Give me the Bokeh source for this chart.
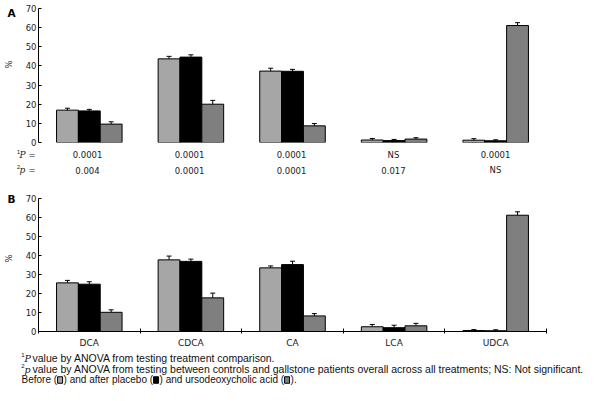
import numpy as np
from bokeh.plotting import figure
from bokeh.models import Range1d, FixedTicker, ColumnDataSource, Whisker, TeeHead
from bokeh.layouts import column, row
from bokeh.core.properties import value
from bokeh.embed import file_html
from bokeh.resources import INLINE

# ---------------- data ----------------
categories = ["DCA", "CDCA", "CA", "LCA", "UDCA"]
series_names = ["Before", "Placebo", "Ursodeoxycholic acid"]

a_before = [16.9, 43.7, 37.3, 1.3, 1.2]
a_placebo = [16.5, 44.6, 37.2, 1.0, 0.9]
a_udca = [9.6, 20.0, 8.7, 1.8, 61.1]
a_before_err = [1.0, 1.3, 1.5, 0.8, 0.8]
a_placebo_err = [0.8, 1.2, 1.0, 0.6, 0.5]
a_udca_err = [1.2, 2.0, 1.2, 0.7, 1.5]

b_before = [25.6, 37.7, 33.5, 2.5, 0.5]
b_placebo = [24.9, 36.9, 35.2, 2.0, 0.4]
b_udca = [10.1, 17.7, 8.2, 3.0, 61.2]
b_before_err = [1.3, 2.0, 1.0, 1.2, 0.5]
b_placebo_err = [1.3, 1.2, 1.8, 1.3, 0.5]
b_udca_err = [1.3, 2.5, 1.2, 1.3, 1.8]

p1_values = ["0.0001", "0.0001", "0.0001", "NS", "0.0001"]
p2_values = ["0.004", "0.0001", "0.0001", "0.017", "NS"]
y_ticks = [0, 10, 20, 30, 40, 50, 60, 70]

colors = ["#a6a6a6", "#000000", "#7f7f7f"]

# ---------------- layout constants (picture px) ----------------
W = 584
STRIP = 22          # left strip with panel letter and "%"
LEFT = 14           # axis border of the panel figures
RIGHT = 38
FRAME_X0 = STRIP + LEFT               # 36
FRAME_W = W - STRIP - LEFT - RIGHT    # 510
PX_PER_CAT = FRAME_W / 5.0
BAR_W = 0.215
NUM_FONT = value("DejaVu Sans")
NOTE_FONT = value("Liberation Sans")
TXT = "#222222"


def cat_x(px):
    """picture pixel -> category units"""
    return (px - FRAME_X0) / PX_PER_CAT


centers = np.arange(len(categories)) + 0.5


def blank(width, height, xr, yr):
    p = figure(width=width, height=height, x_range=xr, y_range=yr,
               output_backend="svg", toolbar_location=None,
               x_axis_location=None, y_axis_location=None,
               min_border_left=0, min_border_right=0, min_border_top=0, min_border_bottom=0)
    p.frame_align = False
    p.outline_line_color = None
    p.xgrid.visible = False
    p.ygrid.visible = False
    return p


def base_fig(height, top, bottom, x_axis):
    p = figure(width=W - STRIP, height=height, x_range=Range1d(0, 5), y_range=Range1d(0, 70),
               output_backend="svg", toolbar_location=None,
               x_axis_location=("below" if x_axis else None),
               min_border_left=LEFT, min_border_right=RIGHT,
               min_border_top=top, min_border_bottom=bottom)
    p.frame_align = False
    p.outline_line_color = None
    p.xgrid.visible = False
    p.ygrid.visible = False
    ya = p.yaxis[0]
    ya.ticker = FixedTicker(ticks=y_ticks)
    ya.minor_tick_line_color = None
    ya.major_tick_in = 3
    ya.major_tick_out = 0
    ya.major_label_standoff = 2
    ya.major_label_text_font = "DejaVu Sans"
    ya.major_label_text_font_size = "8.5px"
    ya.major_label_text_color = TXT
    ya.axis_line_color = "black"
    ya.major_tick_line_color = "black"
    return p


def draw_bars(p, vals, errs, full):
    for j, (v, e, c) in enumerate(zip(vals, errs, colors)):
        x = centers + (j - 1) * BAR_W
        p.vbar(x=x, top=v, width=BAR_W, bottom=0, fill_color=c,
               line_color="black", line_width=1)
        v = np.array(v)
        e = np.array(e)
        src = ColumnDataSource(dict(x=x, upper=v + e, lower=(v - e) if full else v))
        w = Whisker(base="x", upper="upper", lower="lower", source=src,
                    line_color="black", line_width=1,
                    upper_head=TeeHead(size=5, line_color="black", line_width=1),
                    lower_head=(TeeHead(size=5, line_color="black", line_width=1) if full else None))
        p.add_layout(w)


def strip(height, top, letter, letter_y, pct_y):
    s = blank(STRIP, height, Range1d(0, STRIP), Range1d(top + height, top))
    s.text(x=[11], y=[letter_y], text=[letter], text_align="center", text_baseline="middle",
           text_font=NUM_FONT, text_font_style="bold", text_font_size="10.5px", text_color="black")
    s.text(x=[8], y=[pct_y], text=["%"], angle=np.pi / 2, text_align="center",
           text_baseline="middle", text_font=NUM_FONT, text_font_size="8.5px", text_color=TXT)
    return s


# ---------------- panel A (0..147) ----------------
pa = base_fig(147, 8, 5, False)
draw_bars(pa, [a_before, a_placebo, a_udca], [a_before_err, a_placebo_err, a_udca_err], True)
sa = strip(147, 0, "A", 12, 64)

# ---------------- p-value rows (147..188) ----------------
pp = blank(W, 41, Range1d(cat_x(0), cat_x(W)), Range1d(188, 147))
for row_y, vals in [(154, p1_values), (169.5, p2_values)]:
    pp.text(x=centers, y=[row_y] * len(vals), text=vals, text_align="center", text_baseline="middle",
            text_font=NUM_FONT, text_font_size="8.5px", text_color=TXT)
for row_y, sup, letter in [(154, "1", "P"), (169.5, "2", "p")]:
    pp.text(x=[cat_x(18)], y=[row_y - 3.5], text=[sup], text_align="center", text_baseline="middle",
            text_font=NUM_FONT, text_font_size="5.5px", text_color=TXT)
    pp.text(x=[cat_x(19)], y=[row_y], text=[letter], text_align="left", text_baseline="middle",
            text_font=value("DejaVu Serif"), text_font_style="italic", text_font_size="9px",
            text_color=TXT)
    pp.text(x=[cat_x(28)], y=[row_y], text=["="], text_align="left", text_baseline="middle",
            text_font=NUM_FONT, text_font_size="8.5px", text_color=TXT)

# ---------------- panel B (188..350) ----------------
pb = base_fig(162, 10, 16, True)
draw_bars(pb, [b_before, b_placebo, b_udca], [b_before_err, b_placebo_err, b_udca_err], False)
xa = pb.xaxis[0]
xa.ticker = FixedTicker(ticks=list(centers), minor_ticks=list(range(len(categories) + 1)))
xa.major_label_overrides = {float(c): name for c, name in zip(centers, categories)}
xa.major_tick_line_color = None
xa.major_tick_in = 0
xa.major_tick_out = 0
xa.minor_tick_line_color = "black"
xa.minor_tick_in = 3
xa.minor_tick_out = 2
xa.axis_line_color = "black"
xa.major_label_standoff = 4
xa.major_label_text_font = "DejaVu Sans"
xa.major_label_text_font_size = "9px"
xa.major_label_text_color = TXT
sb = strip(162, 188, "B", 198, 258)

# ---------------- footnotes (350..385) ----------------
pn = blank(W, 35, Range1d(0, W), Range1d(385, 350))
note_kw = dict(text_baseline="middle", text_align="left", text_font=NOTE_FONT,
               text_color="#111111")
notes = ["value by ANOVA from testing treatment comparison.",
         "value by ANOVA from testing between controls and gallstone patients overall across all treatments; NS: Not significant."]
for row_y, sup, letter, txt in [(357.5, "1", "P", notes[0]), (368.5, "2", "p", notes[1])]:
    pn.text(x=[22.5], y=[row_y - 3], text=[sup], text_align="center", text_baseline="middle",
            text_font=NOTE_FONT, text_font_size="6px", text_color="#111111")
    pn.text(x=[24], y=[row_y], text=[letter], text_align="left", text_baseline="middle",
            text_font=value("DejaVu Serif"), text_font_style="italic", text_font_size="9.5px",
            text_color="#111111")
    pn.text(x=[32], y=[row_y], text=[txt], text_font_size="10.5px", **note_kw)

segments = ["Before (", ") and after placebo (", ") and ursodeoxycholic acid (", ")."]
seg_em = [3.557, 8.949, 12.449, 0.611]   # Arial / Liberation Sans advance widths
FS3 = 10.0
SW = 5.0
row3 = 379.0
x = 21.0
for k, (seg, em) in enumerate(zip(segments, seg_em)):
    pn.text(x=[x], y=[row3], text=[seg], text_font_size=f"{FS3}px", **note_kw)
    x += em * FS3
    if k < 3:
        pn.rect(x=[x + 0.5 + SW / 2], y=[row3 + 0.5], width=SW, height=6.5, fill_color=colors[k],
                line_color="black", line_width=1)
        x += SW + 1.5

layout = column(row(sa, pa), pp, row(sb, pb), pn)
open("out.html", "w").write(file_html(layout, INLINE))
